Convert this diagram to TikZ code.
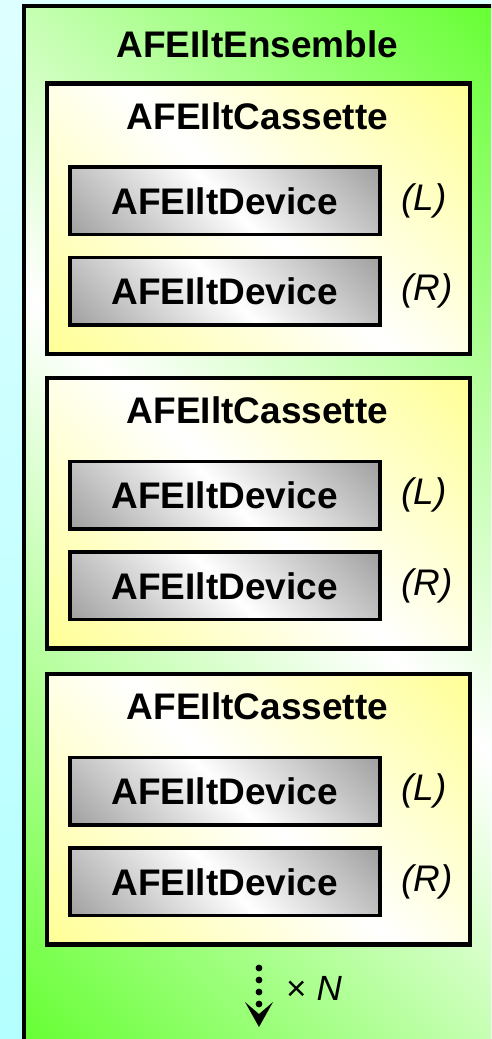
\documentclass[tikz,border=0pt]{standalone}
\usepackage{fontspec}
\setmainfont{Liberation Sans}
\usetikzlibrary{arrows.meta}
\definecolor{ensG}{RGB}{102,255,51}
\definecolor{casY}{RGB}{255,255,150}
\definecolor{devG}{RGB}{160,160,160}
\definecolor{bgTop}{RGB}{222,255,255}
\definecolor{bgBot}{RGB}{180,255,255}
\pgfdeclareverticalshading{ensshade}{100bp}{color(0bp)=(ensG); color(14.64bp)=(ensG); color(50bp)=(white); color(85.36bp)=(ensG); color(100bp)=(ensG)}
\pgfdeclareverticalshading{casshade}{100bp}{color(0bp)=(casY); color(14.64bp)=(casY); color(50bp)=(white); color(85.36bp)=(casY); color(100bp)=(casY)}
\pgfdeclareverticalshading{devshade}{100bp}{color(0bp)=(devG); color(14.64bp)=(devG); color(50bp)=(white); color(85.36bp)=(devG); color(100bp)=(devG)}
\tikzset{
  ensbox/.style={draw=black, line width=4pt, shade, shading=ensshade, shading angle=-45,
    minimum width=473pt, minimum height=1041pt, inner sep=0pt, outer sep=0pt},
  casbox/.style={draw=black, line width=4.3pt, shade, shading=casshade, shading angle=-45,
    minimum width=423pt, minimum height=270.5pt, inner sep=0pt, outer sep=0pt},
  devbox/.style={draw=black, line width=3.8pt, shade, shading=devshade, shading angle=-45,
    minimum width=310pt, minimum height=67.5pt, inner sep=0pt, outer sep=0pt,
    font=\fontsize{37}{40}\selectfont\bfseries},
  ttl/.style={inner sep=0pt, font=\fontsize{37}{40}\selectfont\bfseries},
  side/.style={inner sep=0pt, anchor=west, font=\fontsize{37}{40}\selectfont\itshape},
  mult/.style={inner sep=0pt, anchor=west, font=\fontsize{35}{38}\selectfont},
  dotarrow/.style={line width=6.8pt, line cap=round, dash pattern=on 0pt off 12pt,
    -{Stealth[length=25pt, width=28pt, inset=12pt, line width=0pt]}}
}
\begin{document}
\begin{tikzpicture}[x=1pt, y=-1pt]
  \useasboundingbox (0,0) rectangle (491,1039);
  \clip (0,0) rectangle (491,1039);
  \fill[top color=bgTop, bottom color=bgBot] (0,0) rectangle (491,1039);
  \node[ensbox] (ens) at (260.5,526.5) {};
  \node[ttl] (enst) at (257.5,44) {AFEIltEnsemble};
  \foreach \i/\t in {1/83.5, 2/378, 3/674} {
    \node[casbox] (cas\i) at (258.5,{\t+135.25}) {};
    \node[ttl] (cas\i t) at (257.5,{\t+32.5}) {AFEIltCassette};
    \node[devbox] (dev\i L) at (224.7,{\t+117.3}) {AFEIltDevice};
    \node[devbox] (dev\i R) at (224.7,{\t+207.8}) {AFEIltDevice};
    \node[side] (lab\i L) at (401,{\t+117.3}) {(L)};
    \node[side] (lab\i R) at (401,{\t+207.8}) {(R)};
  }
  \coordinate (arrtop) at (259,968);
  \coordinate (arrtip) at (259,1027);
  \draw[dotarrow] (arrtop) -- (arrtip);
  \node[mult] (xn) at (286,988) {×\hspace{10pt}\textit{N}};
\end{tikzpicture}
\end{document}
